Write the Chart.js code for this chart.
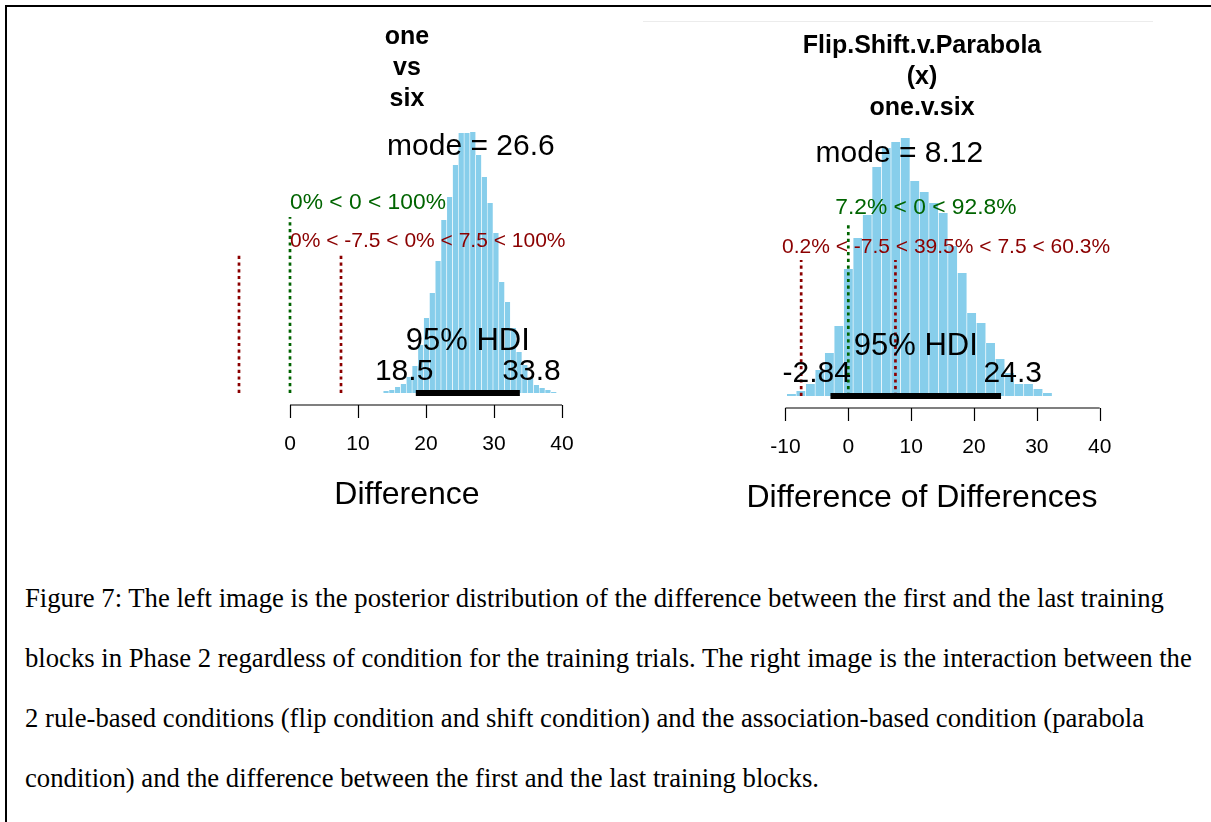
<!DOCTYPE html>
<html>
<head>
<meta charset="utf-8">
<script src="https://cdn.jsdelivr.net/npm/chart.js@4.4.1/dist/chart.umd.min.js"></script>
<style>
  html, body { margin: 0; padding: 0; background: #fff; }
  body { width: 1211px; height: 822px; position: relative; overflow: hidden; }
  .frame { position: absolute; left: 5px; top: 5px; right: -4px; bottom: -4px; border-top: 2px solid #000; border-left: 2px solid #000; }
  .rule { position: absolute; left: 643px; top: 21px; width: 510px; height: 1px; background: #ececec; }
  .plot { position: absolute; top: 16px; }
  #left { left: 197px; }
  #right { left: 712px; }
  .caption { position: absolute; left: 25px; margin: 0; font-family: 'Liberation Serif', 'Times New Roman', serif;
             font-size: 26.7px; line-height: 1; white-space: nowrap; color: #000; }
</style>
</head>
<body>
<div class="frame"></div>
<div class="rule"></div>
<canvas id="left" class="plot" width="420" height="520"></canvas>
<canvas id="right" class="plot" width="420" height="520"></canvas>
<p class="caption" style="top:585px">Figure 7: The left image is the posterior distribution of the difference between the first and the last training</p>
<p class="caption" style="top:645px">blocks in Phase 2 regardless of condition for the training trials. The right image is the interaction between the</p>
<p class="caption" style="top:705px">2 rule-based conditions (flip condition and shift condition) and the association-based condition (parabola</p>
<p class="caption" style="top:765px">condition) and the difference between the first and the last training blocks.</p>
<script>
// left panel: one vs six (bin midpoints and bar heights)
const LEFT_BINS = [14.13, 14.98, 15.83, 16.68, 17.53, 18.38, 19.23, 20.08, 20.93, 21.78,
                   22.63, 23.48, 24.33, 25.18, 26.03, 26.88, 27.73, 28.58, 29.43, 30.28,
                   31.13, 31.98, 32.83, 33.68, 34.53, 35.38, 36.23, 37.08, 37.93, 38.78];
const LEFT_COUNTS = [2, 3, 6, 9, 16, 27, 48, 75, 100, 132,
                     173, 196, 228, 260, 260, 261, 238, 216, 190, 160,
                     111, 91, 65, 41, 28, 15, 8, 5, 3, 1];
const LEFT_TICKS = [0, 10, 20, 30, 40];
const LEFT_TITLE = ['one', 'vs', 'six'];
const LEFT_HDI = [18.5, 33.8];
const LEFT_MODE = 26.6;

// right panel: Flip.Shift.v.Parabola (x) one.v.six
const RIGHT_BINS = [-9.05, -7.54, -6.03, -4.52, -3.01, -1.50, 0.01, 1.52, 3.02, 4.53,
                    6.04, 7.55, 9.06, 10.57, 12.07, 13.58, 15.09, 16.60, 18.11, 19.62,
                    21.12, 22.63, 24.14, 25.65, 27.16, 28.67, 30.18, 31.68];
const RIGHT_COUNTS = [2, 5, 12, 26, 43, 70, 127, 158, 181, 229,
                      248, 254, 258, 215, 204, 193, 183, 150, 123, 83,
                      73, 53, 37, 23, 12, 12, 7, 3];
const RIGHT_TICKS = [-10, 0, 10, 20, 30, 40];
const RIGHT_TITLE = ['Flip.Shift.v.Parabola', '(x)', 'one.v.six'];
const RIGHT_HDI = [-2.84, 24.3];
const RIGHT_MODE = 8.12;

const COMP_VAL = 0;
const ROPE = [-7.5, 7.5];

const FONT = "'Liberation Sans', Arial, Helvetica, sans-serif";
const GREEN = '#006400';
const RED = '#8B0000';

// R plotPost style decorations: axis segment, HDI bar, comp/ROPE lines, labels
const rPlot = {
  id: 'rAnnot',
  afterDatasetsDraw(chart, args, o) {
    const ctx = chart.ctx, xs = chart.scales.x, ys = chart.scales.y;
    const base = ys.getPixelForValue(0);
    ctx.save();

    // axis line only from first to last tick, like R's axis()
    const ay = base + 12;
    ctx.strokeStyle = '#000';
    ctx.lineWidth = 1.2;
    ctx.beginPath();
    ctx.moveTo(xs.getPixelForValue(o.ticks[0]), ay);
    ctx.lineTo(xs.getPixelForValue(o.ticks[o.ticks.length - 1]), ay);
    o.ticks.forEach(v => {
      const px = Math.round(xs.getPixelForValue(v)) + 0.5;
      ctx.moveTo(px, ay);
      ctx.lineTo(px, ay + 13);
    });
    ctx.stroke();

    // dotted comparison / ROPE lines
    ctx.lineWidth = 2.7;
    ctx.setLineDash([3.2, 3.5]);
    o.vlines.forEach(l => {
      const px = xs.getPixelForValue(l.x);
      ctx.strokeStyle = l.color;
      ctx.beginPath();
      ctx.moveTo(px, ys.getPixelForValue(0));
      ctx.lineTo(px, ys.getPixelForValue(l.top));
      ctx.stroke();
    });
    ctx.setLineDash([]);

    // HDI bar
    ctx.strokeStyle = '#000';
    ctx.lineWidth = 6;
    ctx.beginPath();
    ctx.moveTo(xs.getPixelForValue(o.hdi[0]), base);
    ctx.lineTo(xs.getPixelForValue(o.hdi[1]), base);
    ctx.stroke();

    // texts, anchored R-style with adj
    ctx.textBaseline = 'middle';
    ctx.textAlign = 'left';
    o.texts.forEach(t => {
      ctx.font = `${t.size}px ${FONT}`;
      ctx.fillStyle = t.color || '#000';
      const w = ctx.measureText(t.text).width;
      ctx.fillText(t.text, xs.getPixelForValue(t.x) - t.adj * w, ys.getPixelForValue(t.y));
    });
    ctx.restore();
  }
};

function makeHist(id, cfg) {
  const opts = {
    responsive: false,
    animation: false,
    devicePixelRatio: 1,
    layout: { padding: { left: 25, right: 25, top: 0, bottom: 0 } },
    plugins: {
      legend: { display: false },
      tooltip: { enabled: false },
      title: {
        display: true,
        text: cfg.title,
        color: '#000',
        font: { family: FONT, size: 25, weight: 'bold', lineHeight: 31 / 25 },
        padding: { top: cfg.titleTop, bottom: 10 }
      },
      rAnnot: cfg
    },
    scales: {
      x: {
        type: 'linear',
        min: cfg.xMin,
        max: cfg.xMax,
        offset: false,
        grid: { display: false, drawTicks: true, tickLength: 19 },
        border: { display: false },
        afterBuildTicks: s => { s.ticks = cfg.ticks.map(v => ({ value: v })); },
        ticks: {
          color: '#000',
          font: { family: FONT, size: 21 },
          padding: 19.4,
          autoSkip: false,
          maxRotation: 0,
          callback: v => String(v)
        },
        title: {
          display: true,
          text: cfg.xLabel,
          color: '#000',
          font: { family: FONT, size: 32 },
          padding: { top: 0, bottom: 4 }
        }
      },
      y: { display: false, min: 0, max: cfg.areaBottom - cfg.areaTop }
    }
  };
  const chart = new Chart(document.getElementById(id), {
    type: 'bar',
    data: {
      datasets: [{
        data: cfg.bins.map((x, i) => ({ x: x, y: cfg.counts[i] })),
        backgroundColor: '#87CEEB',
        borderColor: '#ffffff',
        borderWidth: { left: 0.6, right: 0.6, top: 0, bottom: 0 },
        borderSkipped: false,
        barPercentage: 1,
        categoryPercentage: 1
      }]
    },
    options: opts,
    plugins: [rPlot]
  });
  // pin the plot region to where R put it
  for (let k = 0; k < 2; k++) {
    const a = chart.chartArea;
    opts.plugins.title.padding.bottom += cfg.areaTop - a.top;
    opts.layout.padding.bottom += a.bottom - cfg.areaBottom;
    chart.update('none');
  }
  return chart;
}

makeHist('left', {
  bins: LEFT_BINS, counts: LEFT_COUNTS, ticks: LEFT_TICKS, title: LEFT_TITLE,
  xLabel: 'Difference', xMin: -10, xMax: 44.41, titleTop: 5.5,
  areaTop: 104, areaBottom: 377, hdi: LEFT_HDI,
  vlines: [
    { x: COMP_VAL, top: 176, color: GREEN },
    { x: ROPE[0], top: 138, color: RED },
    { x: ROPE[1], top: 138, color: RED }
  ],
  texts: [
    { text: 'mode = ' + LEFT_MODE, x: LEFT_MODE, adj: 0.5, y: 246, size: 30 },
    { text: '0% < 0 < 100%', x: COMP_VAL, adj: 0, y: 190, size: 22.8, color: GREEN },
    { text: '0% < -7.5 < 0% < 7.5 < 100%', x: 0, adj: 0, y: 151.5, size: 21, color: RED },
    { text: '95% HDI', x: (LEFT_HDI[0] + LEFT_HDI[1]) / 2, adj: 0.5, y: 51.5, size: 31 },
    { text: String(LEFT_HDI[0]), x: LEFT_HDI[0], adj: 0.7, y: 21, size: 30 },
    { text: String(LEFT_HDI[1]), x: LEFT_HDI[1], adj: 0.3, y: 21, size: 30 }
  ]
});

makeHist('right', {
  bins: RIGHT_BINS, counts: RIGHT_COUNTS, ticks: RIGHT_TICKS, title: RIGHT_TITLE,
  xLabel: 'Difference of Differences', xMin: -17.71, xMax: 41.16, titleTop: 14.5,
  areaTop: 104, areaBottom: 380, hdi: RIGHT_HDI,
  vlines: [
    { x: COMP_VAL, top: 174, color: GREEN },
    { x: ROPE[0], top: 136, color: RED },
    { x: ROPE[1], top: 136, color: RED }
  ],
  texts: [
    { text: 'mode = ' + RIGHT_MODE, x: RIGHT_MODE, adj: 0.5, y: 242, size: 30 },
    { text: '7.2% < 0 < 92.8%', x: COMP_VAL, adj: 0.072, y: 188, size: 22.8, color: GREEN },
    { text: '0.2% < -7.5 < 39.5% < 7.5 < 60.3%', x: -10.55, adj: 0, y: 149, size: 21, color: RED },
    { text: '95% HDI', x: (RIGHT_HDI[0] + RIGHT_HDI[1]) / 2, adj: 0.5, y: 50, size: 31 },
    { text: String(RIGHT_HDI[0]), x: RIGHT_HDI[0], adj: 0.7, y: 22, size: 30 },
    { text: String(RIGHT_HDI[1]), x: RIGHT_HDI[1], adj: 0.3, y: 22, size: 30 }
  ]
});
</script>
</body>
</html>
